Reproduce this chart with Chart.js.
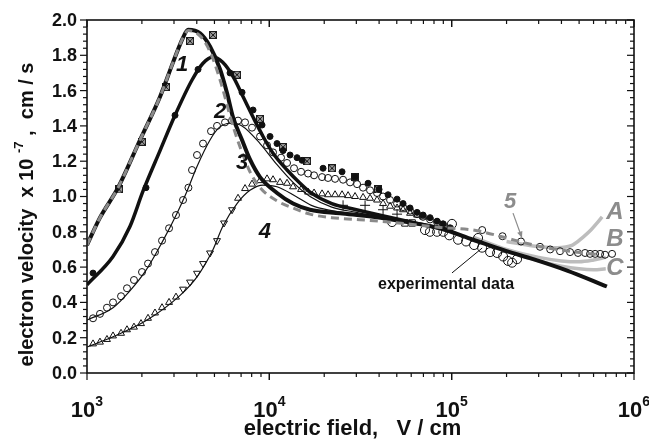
<!DOCTYPE html>
<html>
<head>
<meta charset="utf-8">
<script src="https://cdn.jsdelivr.net/npm/chart.js@4.4.1/dist/chart.umd.min.js"></script>
<style>
  html, body { margin: 0; padding: 0; background: #fff; }
  #wrap { width: 649px; height: 445px; }
</style>
</head>
<body>
<div id="wrap"><canvas id="grafico" width="649" height="445"></canvas></div>
<script>
// tick labels
const xDecades = [3, 4, 5, 6];
const yTicks = [0, 0.2, 0.4, 0.6, 0.8, 1.0, 1.2, 1.4, 1.6, 1.8, 2.0];

// curve 1 (thick, highest peak)
const curve1E = [1000, 1178, 1480, 1953, 2515, 2964, 3363, 3583, 4170, 4730, 5370, 5865, 6316, 7085, 7830, 8893, 11020, 13490, 16720, 24400, 37000, 57000, 86000, 131000, 200000, 280000, 430000, 710000];
const curve1V = [0.725, 0.88, 1.05, 1.32, 1.565, 1.76, 1.90, 1.945, 1.925, 1.85, 1.72, 1.585, 1.45, 1.32, 1.21, 1.11, 1.02, 0.96, 0.925, 0.905, 0.885, 0.855, 0.82, 0.755, 0.69, 0.645, 0.58, 0.49];

// curve 2 (thick)
const curve2E = [1000, 1389, 1720, 2028, 2515, 3039, 3767, 4328, 4912, 5550, 6316, 7180, 8140, 9240, 10478, 12506, 14740, 16720, 22000, 30000, 40000, 57000, 86000];
const curve2V = [0.50, 0.66, 0.83, 1.03, 1.26, 1.46, 1.66, 1.755, 1.79, 1.76, 1.68, 1.565, 1.45, 1.34, 1.245, 1.15, 1.075, 1.025, 0.96, 0.925, 0.895, 0.86, 0.82];

// curve 3 (thin)
const curve3E = [1000, 1389, 1700, 2100, 2580, 3118, 3536, 4012, 4728, 5300, 6087, 7085, 8893, 11020, 13490, 16720, 22000, 30000, 40000, 57000];
const curve3V = [0.30, 0.37, 0.46, 0.58, 0.74, 0.905, 1.03, 1.17, 1.32, 1.39, 1.415, 1.40, 1.30, 1.18, 1.08, 1.0, 0.94, 0.91, 0.885, 0.855];

// curve 4 (thin)
const curve4E = [1000, 1389, 2134, 3240, 4012, 4912, 5550, 6649, 7830, 9240, 11020, 14000, 17000, 22000, 30000];
const curve4V = [0.147, 0.205, 0.30, 0.44, 0.545, 0.70, 0.83, 0.96, 1.035, 1.065, 1.055, 1.0, 0.95, 0.92, 0.90];

// curve 5 (gray dashed)
const curve5E = [1000, 1178, 1480, 1953, 2515, 2964, 3363, 3583, 4170, 4730, 5370, 6316, 7085, 7830, 8893, 11020, 13490, 16720, 22000, 30000, 40000, 57000, 86000, 131000, 200000, 235000, 350000, 530000, 650000];
const curve5V = [0.725, 0.88, 1.05, 1.32, 1.565, 1.76, 1.90, 1.94, 1.91, 1.82, 1.66, 1.40, 1.25, 1.14, 1.05, 0.975, 0.935, 0.90, 0.88, 0.87, 0.86, 0.845, 0.825, 0.81, 0.765, 0.745, 0.705, 0.68, 0.67];

// curves A, B, C (light gray)
const curveAE = [200000, 280000, 379000, 460000, 526000, 580000, 628000, 669000];
const curveAV = [0.745, 0.72, 0.71, 0.725, 0.77, 0.81, 0.85, 0.885];
const curveBE = [131000, 200000, 300000, 400000, 500000, 600000, 700000];
const curveBV = [0.77, 0.70, 0.655, 0.635, 0.63, 0.64, 0.655];
const curveCE = [150000, 200000, 300000, 400000, 500000, 600000, 700000];
const curveCV = [0.74, 0.69, 0.635, 0.605, 0.59, 0.585, 0.59];

// marker series
const filledE = [1079, 2107, 3039, 4064, 6087, 7085, 8140, 9120, 10088, 11020, 11890, 12990, 14190, 15120, 19710, 25050, 29520, 34790, 39980, 44780, 50170, 54130, 59130, 64600, 69660, 76100, 83150, 89690, 97990];
const filledV = [0.566, 1.05, 1.46, 1.72, 1.70, 1.59, 1.49, 1.405, 1.34, 1.30, 1.26, 1.235, 1.22, 1.205, 1.16, 1.14, 1.11, 1.075, 1.04, 1.01, 0.985, 0.96, 0.935, 0.91, 0.895, 0.88, 0.86, 0.845, 0.82];

const crossedE = [1498, 2003, 2713, 3673, 4912, 6649, 8893, 11890, 16100, 22080, 29520, 39470];
const crossedV = [1.04, 1.31, 1.62, 1.88, 1.915, 1.69, 1.44, 1.28, 1.20, 1.16, 1.11, 1.04];

const openE = [1079, 1178, 1287, 1389, 1537, 1657, 1810, 2003, 2161, 2360, 2579, 2818, 3077, 3363, 3600, 3767, 4012, 4328, 4788, 5166, 5715, 6244, 6734, 7359, 8037, 8893, 9714, 10478, 11593, 12506, 13660, 14930, 16310, 17590, 19460, 20990, 22930, 25370, 27720, 30280, 32660, 35680, 38970, 42040, 45940, 50170, 54130, 59130, 64600, 69660, 76100, 83150, 89690, 97990, 147000, 190000, 240000, 305000, 347000, 393000, 446000, 493000, 539000, 574000, 612000, 652000, 694000, 758000];
const openV = [0.31, 0.335, 0.37, 0.40, 0.435, 0.48, 0.527, 0.572, 0.62, 0.685, 0.75, 0.82, 0.895, 0.98, 1.05, 1.15, 1.235, 1.30, 1.37, 1.40, 1.42, 1.43, 1.43, 1.42, 1.39, 1.34, 1.29, 1.25, 1.22, 1.19, 1.16, 1.14, 1.13, 1.12, 1.11, 1.105, 1.10, 1.095, 1.08, 1.07, 1.05, 1.035, 1.02, 1.0, 0.98, 0.96, 0.94, 0.92, 0.90, 0.885, 0.87, 0.855, 0.84, 0.82, 0.81, 0.775, 0.745, 0.715, 0.70, 0.69, 0.685, 0.68, 0.68, 0.675, 0.675, 0.675, 0.67, 0.675];

const triUpE = [1079, 1178, 1287, 1389, 1537, 1657, 1810, 1978, 2161, 2360, 2579, 2818, 3077, 6734, 7359, 8037, 8893, 9714, 10478, 11447, 12506, 13490, 14930, 16310, 17590, 19460, 20990, 22930, 25050, 27030, 29520, 32660, 35680, 38970, 42040, 45940, 50170, 54130, 59130, 64600, 69660];
const triUpV = [0.165, 0.175, 0.19, 0.21, 0.225, 0.245, 0.26, 0.28, 0.31, 0.34, 0.37, 0.40, 0.43, 0.99, 1.045, 1.07, 1.09, 1.10, 1.095, 1.08, 1.075, 1.055, 1.04, 1.025, 1.02, 1.015, 1.01, 1.01, 1.01, 1.005, 1.0, 0.995, 0.99, 0.98, 0.96, 0.945, 0.935, 0.925, 0.905, 0.895, 0.885];
const triDownE = [3363, 3673, 4012, 4328, 4728, 5166, 5644, 6244];
const triDownV = [0.475, 0.515, 0.565, 0.62, 0.68, 0.75, 0.85, 0.925];

// experimental data
const expCircE = [47100, 71400, 76000, 83150, 90000, 97000, 100400, 108400, 119900, 132700, 139600, 146800, 162500, 177500, 191500, 203900, 214500, 228400];
const expCircV = [0.855, 0.81, 0.80, 0.80, 0.80, 0.78, 0.845, 0.755, 0.745, 0.725, 0.765, 0.71, 0.685, 0.68, 0.66, 0.635, 0.625, 0.645];
const expSquareE = [55400, 60700];
const expSquareV = [0.85, 0.85];
const expCrossE = [25370, 33500, 42040, 50170];
const expCrossV = [0.95, 0.95, 0.925, 0.90];

const FONT = "'Liberation Sans', Arial, sans-serif";

function pares(xs, ys) {
    return xs.map((x, i) => ({ x: x, y: ys[i] }));
}

// quadrado com X (marcador)
const quadX = document.createElement('canvas');
quadX.width = 8; quadX.height = 8;
(function () {
    const c = quadX.getContext('2d');
    c.fillStyle = '#9a9a9a';
    c.fillRect(0, 0, 8, 8);
    c.strokeStyle = '#1a1a1a';
    c.lineWidth = 1;
    c.strokeRect(0.5, 0.5, 7, 7);
    c.beginPath();
    c.moveTo(1, 1); c.lineTo(7, 7);
    c.moveTo(7, 1); c.lineTo(1, 7);
    c.stroke();
})();

function linha(xs, ys, cor, largura, ordem, extra) {
    return Object.assign({
        data: pares(xs, ys),
        showLine: true,
        borderColor: cor,
        borderWidth: largura,
        pointRadius: 0,
        cubicInterpolationMode: 'monotone',
        fill: false,
        order: ordem
    }, extra || {});
}

function marcadores(xs, ys, estilo, raio, ordem, extra) {
    return Object.assign({
        data: pares(xs, ys),
        showLine: false,
        pointStyle: estilo,
        pointRadius: raio,
        borderColor: '#111',
        borderWidth: 1,
        backgroundColor: 'rgba(255,255,255,0)',
        order: ordem
    }, extra || {});
}

// rótulos das curvas, em coordenadas de dados
const rotulos = [
    { t: '1', e: 3320, v: 1.745, cor: '#111' },
    { t: '2', e: 5370, v: 1.48, cor: '#111' },
    { t: '3', e: 7085, v: 1.19, cor: '#111' },
    { t: '4', e: 9460, v: 0.80, cor: '#111' },
    { t: '5', e: 209000, v: 0.97, cor: '#8c8c8c' },
    { t: 'A', e: 787000, v: 0.91, cor: '#8c8c8c' },
    { t: 'B', e: 787000, v: 0.755, cor: '#8c8c8c' },
    { t: 'C', e: 787000, v: 0.595, cor: '#8c8c8c' }
];

function supTexto(ctx, base, sup, x, y, fBase, fSup, alinhar, subida) {
    ctx.font = fBase;
    const wb = ctx.measureText(base).width;
    ctx.font = fSup;
    const ws = ctx.measureText(sup).width;
    let x0 = x;
    if (alinhar === 'center') x0 = x - (wb + ws) / 2;
    ctx.textAlign = 'left';
    ctx.font = fBase;
    ctx.fillText(base, x0, y);
    ctx.font = fSup;
    ctx.fillText(sup, x0 + wb, y - subida);
}

const decoracao = {
    id: 'decoracao',
    afterDraw(chart) {
        const ctx = chart.ctx;
        const a = chart.chartArea;
        const sx = chart.scales.x;
        const sy = chart.scales.y;
        ctx.save();
        ctx.strokeStyle = '#111';
        ctx.fillStyle = '#111';

        function seg(x1, y1, x2, y2) {
            ctx.beginPath();
            ctx.moveTo(x1, y1);
            ctx.lineTo(x2, y2);
            ctx.stroke();
        }

        // moldura
        ctx.lineWidth = 1.6;
        ctx.strokeRect(a.left, a.top, a.right - a.left, a.bottom - a.top);

        // ticks y
        ctx.lineWidth = 1.2;
        for (let i = 0; i <= 50; i++) {
            const py = sy.getPixelForValue(i * 0.04);
            const len = i % 5 === 0 ? 7 : 4;
            seg(a.left - len, py, a.left, py);
            seg(a.right - len, py, a.right, py);
        }
        // ticks x (log)
        for (let d = 3; d < 6; d++) {
            for (let m = 1; m <= 10; m++) {
                const px = sx.getPixelForValue(m * Math.pow(10, d));
                const len = (m === 1 || m === 10) ? 7 : 4;
                seg(px, a.bottom, px, a.bottom + len);
                seg(px, a.top, px, a.top + len);
            }
        }

        // rótulos y
        ctx.font = 'bold 18px ' + FONT;
        ctx.textAlign = 'right';
        ctx.textBaseline = 'middle';
        yTicks.forEach(v => {
            ctx.fillText(v.toFixed(1), a.left - 10, sy.getPixelForValue(v) + 1);
        });

        // rótulos x
        ctx.textBaseline = 'alphabetic';
        xDecades.forEach(d => {
            const px = sx.getPixelForValue(Math.pow(10, d));
            supTexto(ctx, '10', String(d), px, a.bottom + 44, 'bold 22px ' + FONT, 'bold 14px ' + FONT, 'center', 11);
        });

        // título x
        ctx.font = 'bold 22px ' + FONT;
        ctx.textAlign = 'center';
        ctx.fillText('electric field,   V / cm', (a.left + a.right) / 2 - 8, a.bottom + 62);

        // título y (rotacionado)
        ctx.save();
        ctx.translate(27, (a.top + a.bottom) / 2 + 18);
        ctx.rotate(-Math.PI / 2);
        ctx.textBaseline = 'middle';
        const fB = 'bold 20px ' + FONT;
        const fS = 'bold 13px ' + FONT;
        const p1 = 'electron velocity  x 10 ';
        const p2 = '-7';
        const p3 = ' ,  cm / s';
        ctx.font = fB;
        const w1 = ctx.measureText(p1).width;
        const w3 = ctx.measureText(p3).width;
        ctx.font = fS;
        const w2 = ctx.measureText(p2).width;
        let x0 = -(w1 + w2 + w3) / 2;
        ctx.textAlign = 'left';
        ctx.font = fB; ctx.fillText(p1, x0, 0);
        ctx.font = fS; ctx.fillText(p2, x0 + w1, -8);
        ctx.font = fB; ctx.fillText(p3, x0 + w1 + w2, 0);
        ctx.restore();

        // rótulos das curvas
        ctx.textAlign = 'center';
        ctx.textBaseline = 'middle';
        rotulos.forEach(r => {
            ctx.fillStyle = r.cor;
            ctx.font = (r.t.match(/[0-9]/) ? 'italic bold 22px ' : 'italic bold 24px ') + FONT;
            ctx.fillText(r.t, sx.getPixelForValue(r.e), sy.getPixelForValue(r.v));
        });

        // seta do 5
        ctx.strokeStyle = '#8c8c8c';
        ctx.fillStyle = '#8c8c8c';
        ctx.lineWidth = 1.2;
        const ax1 = sx.getPixelForValue(217000), ay1 = sy.getPixelForValue(0.906);
        const ax2 = sx.getPixelForValue(243000), ay2 = sy.getPixelForValue(0.765);
        seg(ax1, ay1, ax2, ay2);
        const ang = Math.atan2(ay2 - ay1, ax2 - ax1);
        ctx.beginPath();
        ctx.moveTo(ax2, ay2);
        ctx.lineTo(ax2 - 7 * Math.cos(ang - 0.4), ay2 - 7 * Math.sin(ang - 0.4));
        ctx.lineTo(ax2 - 7 * Math.cos(ang + 0.4), ay2 - 7 * Math.sin(ang + 0.4));
        ctx.closePath();
        ctx.fill();

        // experimental data
        ctx.strokeStyle = '#111';
        ctx.fillStyle = '#111';
        ctx.lineWidth = 1;
        seg(sx.getPixelForValue(100400), sy.getPixelForValue(0.567), sx.getPixelForValue(147000), sy.getPixelForValue(0.708));
        ctx.font = 'bold 16px ' + FONT;
        ctx.textAlign = 'left';
        ctx.fillText('experimental data', sx.getPixelForValue(39470), sy.getPixelForValue(0.50));

        ctx.restore();
    }
};

function renderizarGrafico() {
    const ctx = document.getElementById('grafico').getContext('2d');
    new Chart(ctx, {
        type: 'scatter',
        data: {
            datasets: [
                linha(curveAE, curveAV, '#bdbdbd', 3.5, 12),
                linha(curveBE, curveBV, '#bdbdbd', 3.5, 12),
                linha(curveCE, curveCV, '#bdbdbd', 3.5, 12),
                marcadores(expCircE, expCircV, 'circle', 4.5, 11),
                marcadores(expSquareE, expSquareV, 'rect', 4.5, 11),
                marcadores(expCrossE, expCrossV, 'cross', 5, 11),
                linha(curve3E, curve3V, '#111', 1.2, 8),
                linha(curve4E, curve4V, '#111', 1.2, 8),
                marcadores(openE, openV, 'circle', 3.5, 6),
                marcadores(triUpE, triUpV, 'triangle', 4, 6),
                marcadores(triDownE, triDownV, 'triangle', 4, 6, { rotation: 180 }),
                marcadores(filledE, filledV, 'circle', 3, 5, { backgroundColor: '#111' }),
                marcadores(crossedE, crossedV, quadX, 4, 5),
                linha(curve2E, curve2V, '#111', 3.5, 3),
                linha(curve1E, curve1V, '#111', 4, 3),
                linha(curve5E, curve5V, '#8a8a8a', 3, 2, { borderDash: [8, 5] })
            ]
        },
        options: {
            responsive: false,
            animation: false,
            devicePixelRatio: 1,
            layout: { padding: { top: 20, right: 15, left: 0, bottom: 0 } },
            plugins: {
                legend: { display: false },
                tooltip: { enabled: false }
            },
            scales: {
                x: {
                    type: 'logarithmic',
                    min: 1000,
                    max: 1000000,
                    grid: { display: false },
                    border: { display: false },
                    ticks: { display: false },
                    afterFit(s) { s.height = 72; }
                },
                y: {
                    min: 0,
                    max: 2,
                    grid: { display: false },
                    border: { display: false },
                    ticks: { display: false },
                    afterFit(s) { s.width = 87; }
                }
            }
        },
        plugins: [decoracao]
    });
}

document.addEventListener('DOMContentLoaded', renderizarGrafico);
</script>
</body>
</html>
